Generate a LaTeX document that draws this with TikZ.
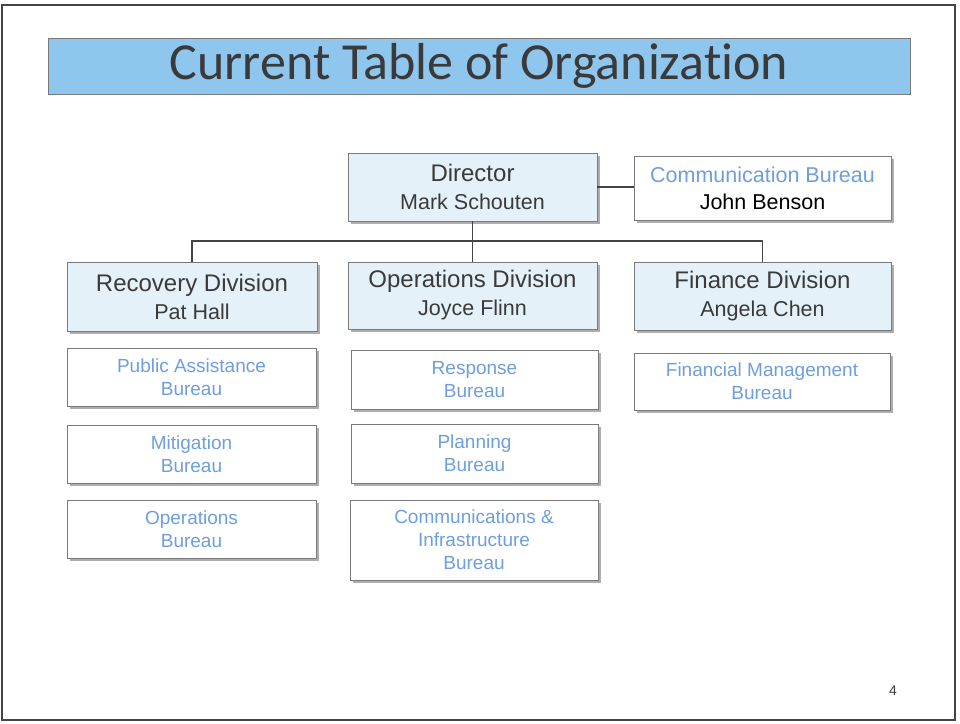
\documentclass[tikz,border=0pt]{standalone}
\usepackage{fontspec}
\setmainfont{Liberation Sans}
\newfontfamily\titlefont[Ligatures=NoCommon]{Carlito}
\usetikzlibrary{shadows}
\definecolor{titlefill}{HTML}{8EC6EE}
\definecolor{divfill}{HTML}{E5F1F8}
\definecolor{bureaublue}{HTML}{6E9FDC}
\definecolor{headgray}{HTML}{3A3A3A}
\definecolor{boxline}{HTML}{7A7A7A}
\definecolor{linegray}{HTML}{444444}
\tikzset{
  x=1pt, y=-1pt,
  basebox/.style={draw=boxline, line width=0.9pt, rectangle, align=center, inner sep=0pt,
    drop shadow={shadow xshift=2.5pt, shadow yshift=-2.5pt, fill=black!45, opacity=0.7}},
  divbox/.style={basebox, fill=divfill, text=headgray, font=\fontsize{21.5}{28}\selectfont},
  bureaubox/.style={basebox, fill=white, text=bureaublue, font=\fontsize{19}{23}\selectfont},
  conn/.style={draw=linegray, line width=1.1pt},
}
\newcommand{\headtxt}{\fontsize{24}{28}\selectfont}
\begin{document}
\begin{tikzpicture}
\useasboundingbox (0,0) rectangle (960,723);
\fill[white] (0,0) rectangle (960,723);
% outer frame
\draw[draw=linegray, line width=1.4pt] (2,5) rectangle (955,720);
% title bar
\node[draw=boxline, line width=0.8pt, fill=titlefill, minimum width=862pt, minimum height=56pt, inner sep=0pt,
  text=headgray, font=\titlefont\fontsize{52}{56}\selectfont] (title) at (479,66) {Current Table of Organization};
% top level
\node[divbox, minimum width=249pt, minimum height=68pt] (dir) at (472.5,187)
  {\headtxt Director\\Mark Schouten};
\node[bureaubox, font=\fontsize{21.5}{27}\selectfont, minimum width=257pt, minimum height=64pt] (comm) at (762.5,188)
  {Communication Bureau\\\textcolor{black}{John Benson}};
% divisions
\node[divbox, minimum width=250pt, minimum height=69pt] (rec) at (192,296.5)
  {\headtxt Recovery Division\\Pat Hall};
\node[divbox, minimum width=249pt, minimum height=67pt] (ops) at (472.5,295.5)
  {\headtxt Operations Division\\Joyce Flinn};
\node[divbox, minimum width=257pt, minimum height=68pt] (fin) at (762.5,296)
  {\headtxt Finance Division\\Angela Chen};
% bureaus
\node[bureaubox, minimum width=249pt, minimum height=58pt] (pab) at (191.5,377)
  {Public Assistance\\Bureau};
\node[bureaubox, minimum width=249pt, minimum height=58pt] (mit) at (191.5,454)
  {Mitigation\\Bureau};
\node[bureaubox, minimum width=249pt, minimum height=58pt] (opb) at (191.5,529)
  {Operations\\Bureau};
\node[bureaubox, minimum width=247pt, minimum height=59pt] (res) at (474.5,379.5)
  {Response\\Bureau};
\node[bureaubox, minimum width=247pt, minimum height=59pt] (pla) at (474.5,453.5)
  {Planning\\Bureau};
\node[bureaubox, minimum width=248pt, minimum height=80pt] (cib) at (474,540)
  {Communications \&\\Infrastructure\\Bureau};
\node[bureaubox, minimum width=256pt, minimum height=57pt] (fmb) at (762,381.5)
  {Financial Management\\Bureau};
% connectors
\coordinate (bus) at (472.5,241);
\draw[conn] (dir.east) -- (dir.east -| comm.west);
\draw[conn] (dir.south) -- (ops.north);
\draw[conn] (rec.north) |- (bus) -| (fin.north);
% page number
\node[text=headgray, font=\fontsize{14}{16}\selectfont, inner sep=0pt] (pnum) at (893,691) {4};
\end{tikzpicture}
\end{document}
